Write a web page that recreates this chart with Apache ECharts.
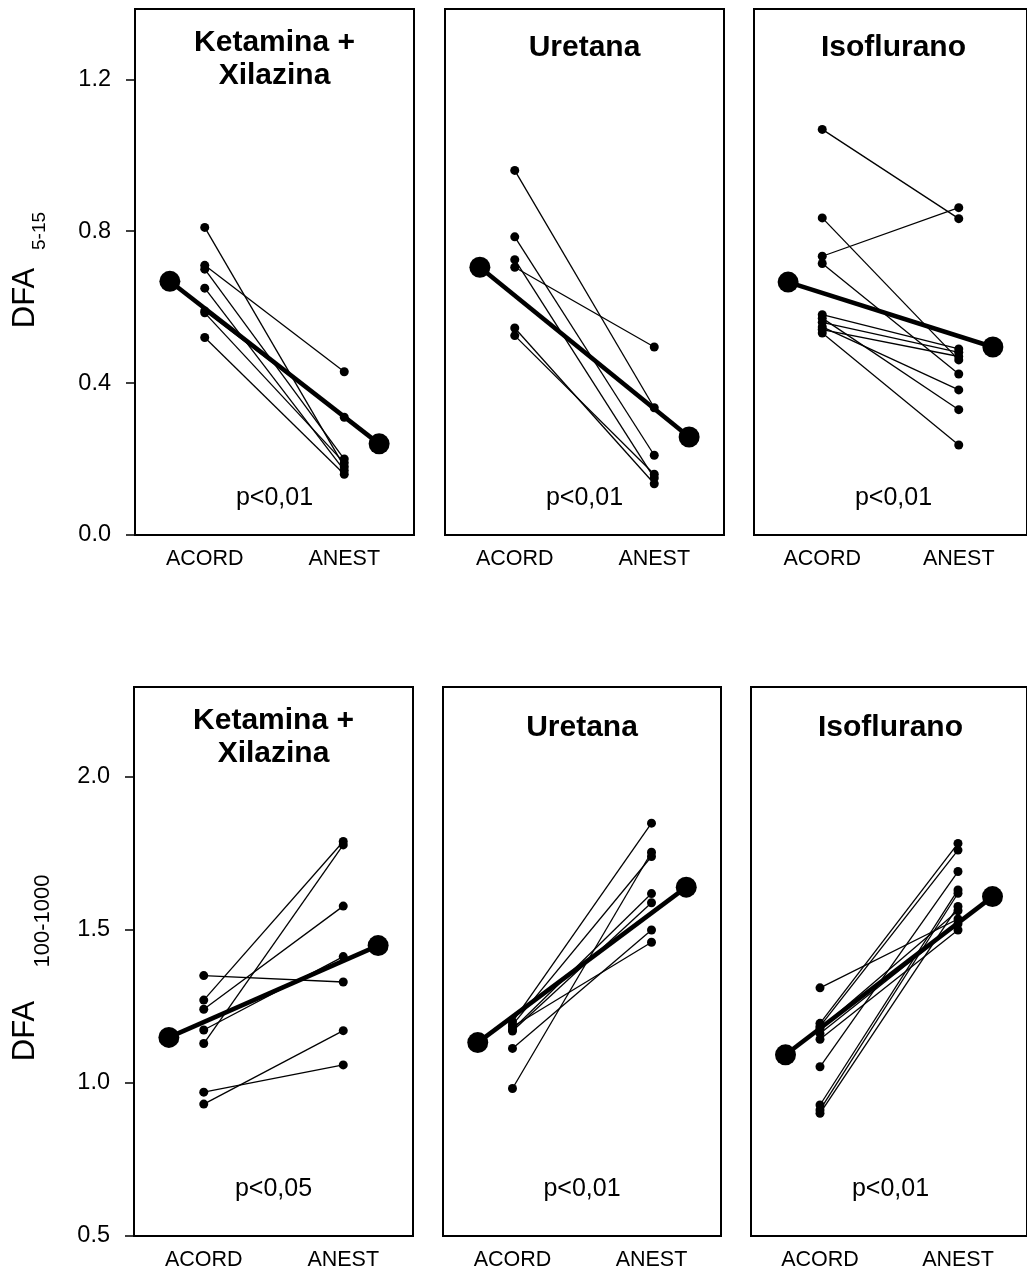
<!DOCTYPE html>
<html>
<head>
<meta charset="utf-8">
<script src="https://cdn.jsdelivr.net/npm/echarts@6/dist/echarts.min.js"></script>
<style>
  html, body { margin: 0; padding: 0; background: #fff; }
  #chart { width: 1027px; height: 1272px; }
</style>
</head>
<body>
<div id="chart"></div>
<script>
  // categorias e grupos
  const categories = ['ACORD', 'ANEST'];
  const groupNames = ['Ketamina +\nXilazina', 'Uretana', 'Isoflurano'];
  const pTop = ['p<0,01', 'p<0,01', 'p<0,01'];
  const pBottom = ['p<0,05', 'p<0,01', 'p<0,01'];
  const ticksTop = [0, 0.4, 0.8, 1.2];
  const ticksBottom = [0.5, 1.0, 1.5, 2.0];

  // DFA 5-15 (cada posição = um animal)
  const kxTopAcord = [0.81, 0.71, 0.70, 0.65, 0.59, 0.585, 0.52];
  const kxTopAnest = [0.18, 0.43, 0.20, 0.17, 0.31, 0.19, 0.16];
  const kxTopMean = [0.668, 0.24];
  const urTopAcord = [0.96, 0.785, 0.725, 0.705, 0.545, 0.525];
  const urTopAnest = [0.335, 0.21, 0.15, 0.495, 0.135, 0.16];
  const urTopMean = [0.705, 0.258];
  const isoTopAcord = [1.068, 0.835, 0.734, 0.715, 0.58, 0.571, 0.56, 0.548, 0.541, 0.532];
  const isoTopAnest = [0.833, 0.461, 0.862, 0.424, 0.49, 0.33, 0.481, 0.382, 0.47, 0.237];
  const isoTopMean = [0.666, 0.495];

  // DFA 100-1000
  const kxBotAcord = [1.351, 1.271, 1.241, 1.173, 1.129, 0.970, 0.931];
  const kxBotAnest = [1.33, 1.789, 1.578, 1.413, 1.778, 1.059, 1.171];
  const kxBotMean = [1.149, 1.449];
  const urBotAcord = [1.2, 1.19, 1.184, 1.175, 1.17, 1.113, 0.982];
  const urBotAnest = [1.849, 1.74, 1.46, 1.619, 1.589, 1.5, 1.754];
  const urBotMean = [1.132, 1.64];
  const isoBotAcord = [1.311, 1.195, 1.185, 1.178, 1.162, 1.143, 1.053, 0.928, 0.912, 0.901];
  const isoBotAnest = [1.536, 1.783, 1.761, 1.563, 1.52, 1.5, 1.691, 1.631, 1.62, 1.577];
  const isoBotMean = [1.092, 1.609];

  const FONT = '"Liberation Sans", Arial, sans-serif';

  const panels = [
    { acord: kxTopAcord, anest: kxTopAnest, mean: kxTopMean, box: [135, 9, 279, 526], yMin: 0, yMax: 1.385, ticks: ticksTop, title: groupNames[0], titleY: [43, 76], p: pTop[0], pY: 498 },
    { acord: urTopAcord, anest: urTopAnest, mean: urTopMean, box: [445, 9, 279, 526], yMin: 0, yMax: 1.385, ticks: ticksTop, title: groupNames[1], titleY: [48], p: pTop[1], pY: 498 },
    { acord: isoTopAcord, anest: isoTopAnest, mean: isoTopMean, box: [754, 9, 279, 526], yMin: 0, yMax: 1.385, ticks: ticksTop, title: groupNames[2], titleY: [48], p: pTop[2], pY: 498 },
    { acord: kxBotAcord, anest: kxBotAnest, mean: kxBotMean, box: [134, 687, 279, 549], yMin: 0.5, yMax: 2.294, ticks: ticksBottom, title: groupNames[0], titleY: [721, 754], p: pBottom[0], pY: 1189 },
    { acord: urBotAcord, anest: urBotAnest, mean: urBotMean, box: [443, 687, 278, 549], yMin: 0.5, yMax: 2.294, ticks: ticksBottom, title: groupNames[1], titleY: [728], p: pBottom[1], pY: 1189 },
    { acord: isoBotAcord, anest: isoBotAnest, mean: isoBotMean, box: [751, 687, 279, 549], yMin: 0.5, yMax: 2.294, ticks: ticksBottom, title: groupNames[2], titleY: [728], p: pBottom[2], pY: 1189 }
  ];

  const chart = echarts.init(document.getElementById('chart'));

  const grid = [], xAxis = [], yAxis = [], series = [], graphic = [];

  panels.forEach((pn, i) => {
    const [left, top, width, height] = pn.box;
    const showY = i % 3 === 0;
    const cx = left + width / 2;

    grid.push({
      left: left, top: top, width: width, height: height,
      show: true, borderColor: '#000', borderWidth: 2, backgroundColor: 'transparent'
    });

    xAxis.push({
      type: 'value', gridIndex: i, min: 0.5, max: 2.5,
      axisLine: { show: false },
      splitLine: { show: false },
      axisTick: { show: false },
      axisLabel: {
        customValues: [1, 2],
        formatter: v => categories[Math.round(v) - 1],
        fontSize: 21.5, fontFamily: FONT, color: '#000', margin: 13
      }
    });

    yAxis.push({
      type: 'value', gridIndex: i, min: pn.yMin, max: pn.yMax,
      axisLine: { show: false },
      splitLine: { show: false },
      axisTick: {
        show: showY, customValues: pn.ticks, length: 9,
        lineStyle: { color: '#000', width: 1.5 }
      },
      axisLabel: {
        show: showY, customValues: pn.ticks,
        formatter: v => v.toFixed(1),
        fontSize: 23.5, fontFamily: FONT, color: '#000', margin: 24
      }
    });

    // linhas individuais
    pn.acord.forEach((a, k) => {
      series.push({
        type: 'line', xAxisIndex: i, yAxisIndex: i,
        data: [[1, a], [2, pn.anest[k]]],
        symbol: 'circle', symbolSize: 9,
        lineStyle: { color: '#000', width: 1.3 },
        itemStyle: { color: '#000' },
        silent: true, z: 2
      });
    });

    // média
    series.push({
      type: 'line', xAxisIndex: i, yAxisIndex: i,
      data: [[0.75, pn.mean[0]], [2.25, pn.mean[1]]],
      symbol: 'circle', symbolSize: 21,
      lineStyle: { color: '#000', width: 4.5 },
      itemStyle: { color: '#000' },
      silent: true, z: 3
    });

    pn.title.split('\n').forEach((line, k) => {
      graphic.push({
        type: 'text', x: cx, y: pn.titleY[k],
        style: {
          text: line, fill: '#000', font: 'bold 30px ' + FONT,
          textAlign: 'center', textVerticalAlign: 'middle'
        }
      });
    });

    graphic.push({
      type: 'text', x: cx, y: pn.pY,
      style: {
        text: pn.p, fill: '#000', font: '25px ' + FONT,
        textAlign: 'center', textVerticalAlign: 'middle'
      }
    });
  });

  // títulos dos eixos Y (rotacionados)
  graphic.push(
    { type: 'text', x: 25, y: 298, rotation: Math.PI / 2,
      style: { text: 'DFA', fill: '#000', font: '31px ' + FONT, textAlign: 'center', textVerticalAlign: 'middle' } },
    { type: 'text', x: 40, y: 231, rotation: Math.PI / 2,
      style: { text: '5-15', fill: '#000', font: '19px ' + FONT, textAlign: 'center', textVerticalAlign: 'middle' } },
    { type: 'text', x: 25, y: 1031, rotation: Math.PI / 2,
      style: { text: 'DFA', fill: '#000', font: '31px ' + FONT, textAlign: 'center', textVerticalAlign: 'middle' } },
    { type: 'text', x: 43, y: 921, rotation: Math.PI / 2,
      style: { text: '100-1000', fill: '#000', font: '22px ' + FONT, textAlign: 'center', textVerticalAlign: 'middle' } }
  );

  chart.setOption({
    animation: false,
    backgroundColor: '#fff',
    grid: grid,
    xAxis: xAxis,
    yAxis: yAxis,
    series: series,
    graphic: graphic
  });
</script>
</body>
</html>
